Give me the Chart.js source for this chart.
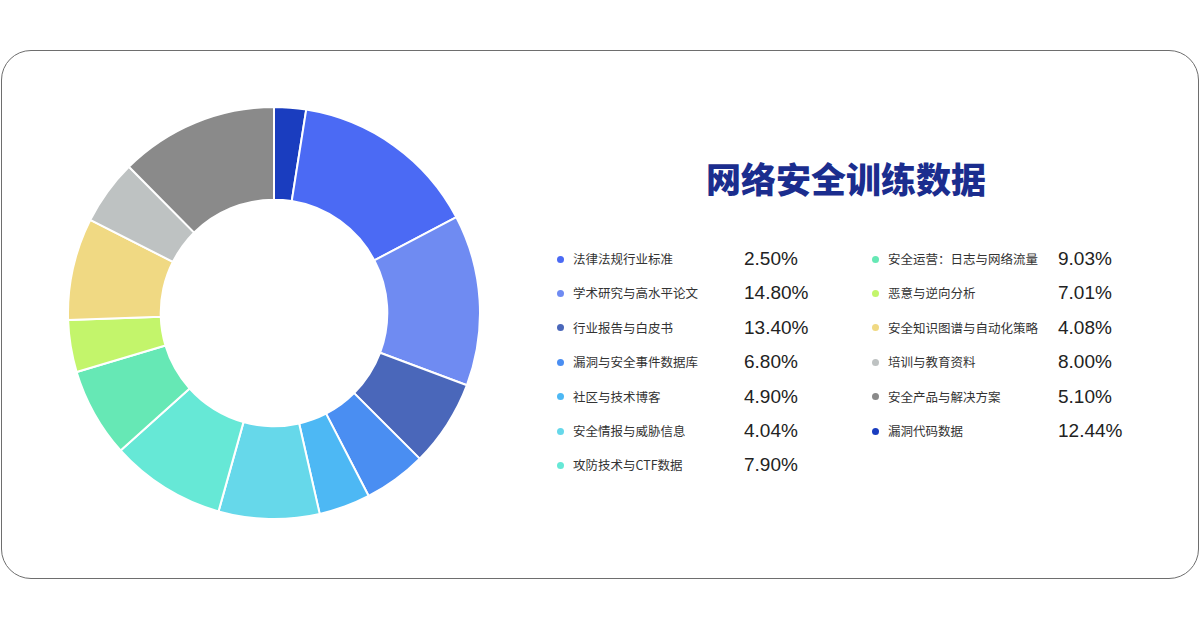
<!DOCTYPE html>
<html>
<head>
<meta charset="utf-8">
<script src="https://cdn.jsdelivr.net/npm/chart.js@4"></script>
<style>
  html,body{margin:0;padding:0;width:1200px;height:630px;background:#fff;overflow:hidden;}
  body{position:relative;font-family:"Noto Sans CJK SC","Noto Sans",sans-serif;}
  #card{position:absolute;left:1px;top:50px;width:1196px;height:527px;border:1px solid #6e6e6e;border-radius:30px;box-sizing:content-box;}
  #wrap{position:absolute;left:67px;top:106px;width:414px;height:414px;}
  #title{position:absolute;left:600px;width:492px;top:154px;text-align:center;font-size:35px;font-weight:900;color:#1b2d8e;line-height:48px;letter-spacing:0px;}
  .row{position:absolute;height:24px;line-height:24px;}
  .dot{position:absolute;width:7px;height:7px;border-radius:50%;top:8.5px;}
  .lab{position:absolute;font-size:12.5px;color:#333;white-space:nowrap;}
  .val{position:absolute;font-family:"Liberation Sans",Arial,sans-serif;font-size:19px;color:#222;white-space:nowrap;}
</style>
</head>
<body>
<div id="card"></div>
<div id="wrap"><canvas id="c"></canvas></div>
<div id="title"></div>
<div id="legend"></div>
<script>
const titleText = "网络安全训练数据";
const categories = ["法律法规行业标准","学术研究与高水平论文","行业报告与白皮书","漏洞与安全事件数据库","社区与技术博客","安全情报与威胁信息","攻防技术与CTF数据","安全运营：日志与网络流量","恶意与逆向分析","安全知识图谱与自动化策略","培训与教育资料","安全产品与解决方案","漏洞代码数据"];
const values = [2.50,14.80,13.40,6.80,4.90,4.04,7.90,9.03,7.01,4.08,8.00,5.10,12.44];
const labelValues = ["2.50%","14.80%","13.40%","6.80%","4.90%","4.04%","7.90%","9.03%","7.01%","4.08%","8.00%","5.10%","12.44%"];
const legendColors = ["#4b6af4","#6f8bf2","#4a67ba","#4a8ef2","#4db8f4","#66d8ea","#66e8d6","#66e8b5","#c3f56b","#f0d983","#bec2c2","#8a8a8a","#1a3dbf"];
const sliceColors = ["#1a3dbf","#4b6af4","#6f8bf2","#4a67ba","#4a8ef2","#4db8f4","#66d8ea","#66e8d6","#66e8b5","#c3f56b","#f0d983","#bec2c2","#8a8a8a"];

document.getElementById('title').textContent = titleText;

const leg = document.getElementById('legend');
categories.forEach((name,i)=>{
  const col = i < 7 ? 0 : 1;
  const r = col === 0 ? i : i - 7;
  const row = document.createElement('div');
  row.className = 'row';
  const baseX = col === 0 ? 557 : 872;
  const valX = col === 0 ? 744 : 1058;
  row.style.left = '0px';
  row.style.top = (247 + r * 34.4) + 'px';
  const d = document.createElement('div'); d.className='dot'; d.style.left = baseX+'px'; d.style.background = legendColors[i];
  const l = document.createElement('div'); l.className='lab'; l.style.left = (baseX+16)+'px'; l.textContent = name;
  const v = document.createElement('div'); v.className='val'; v.style.left = valX+'px'; v.textContent = labelValues[i];
  row.appendChild(d); row.appendChild(l); row.appendChild(v);
  leg.appendChild(row);
});

new Chart(document.getElementById('c'), {
  type: 'doughnut',
  data: { labels: categories, datasets: [{ data: values, backgroundColor: sliceColors, borderColor: '#ffffff', borderWidth: 2 }] },
  options: {
    responsive: true, maintainAspectRatio: false, animation: false,
    cutout: '55%',
    layout: { padding: 0 },
    plugins: { legend: { display: false }, tooltip: { enabled: false } }
  }
});
</script>
</body>
</html>
